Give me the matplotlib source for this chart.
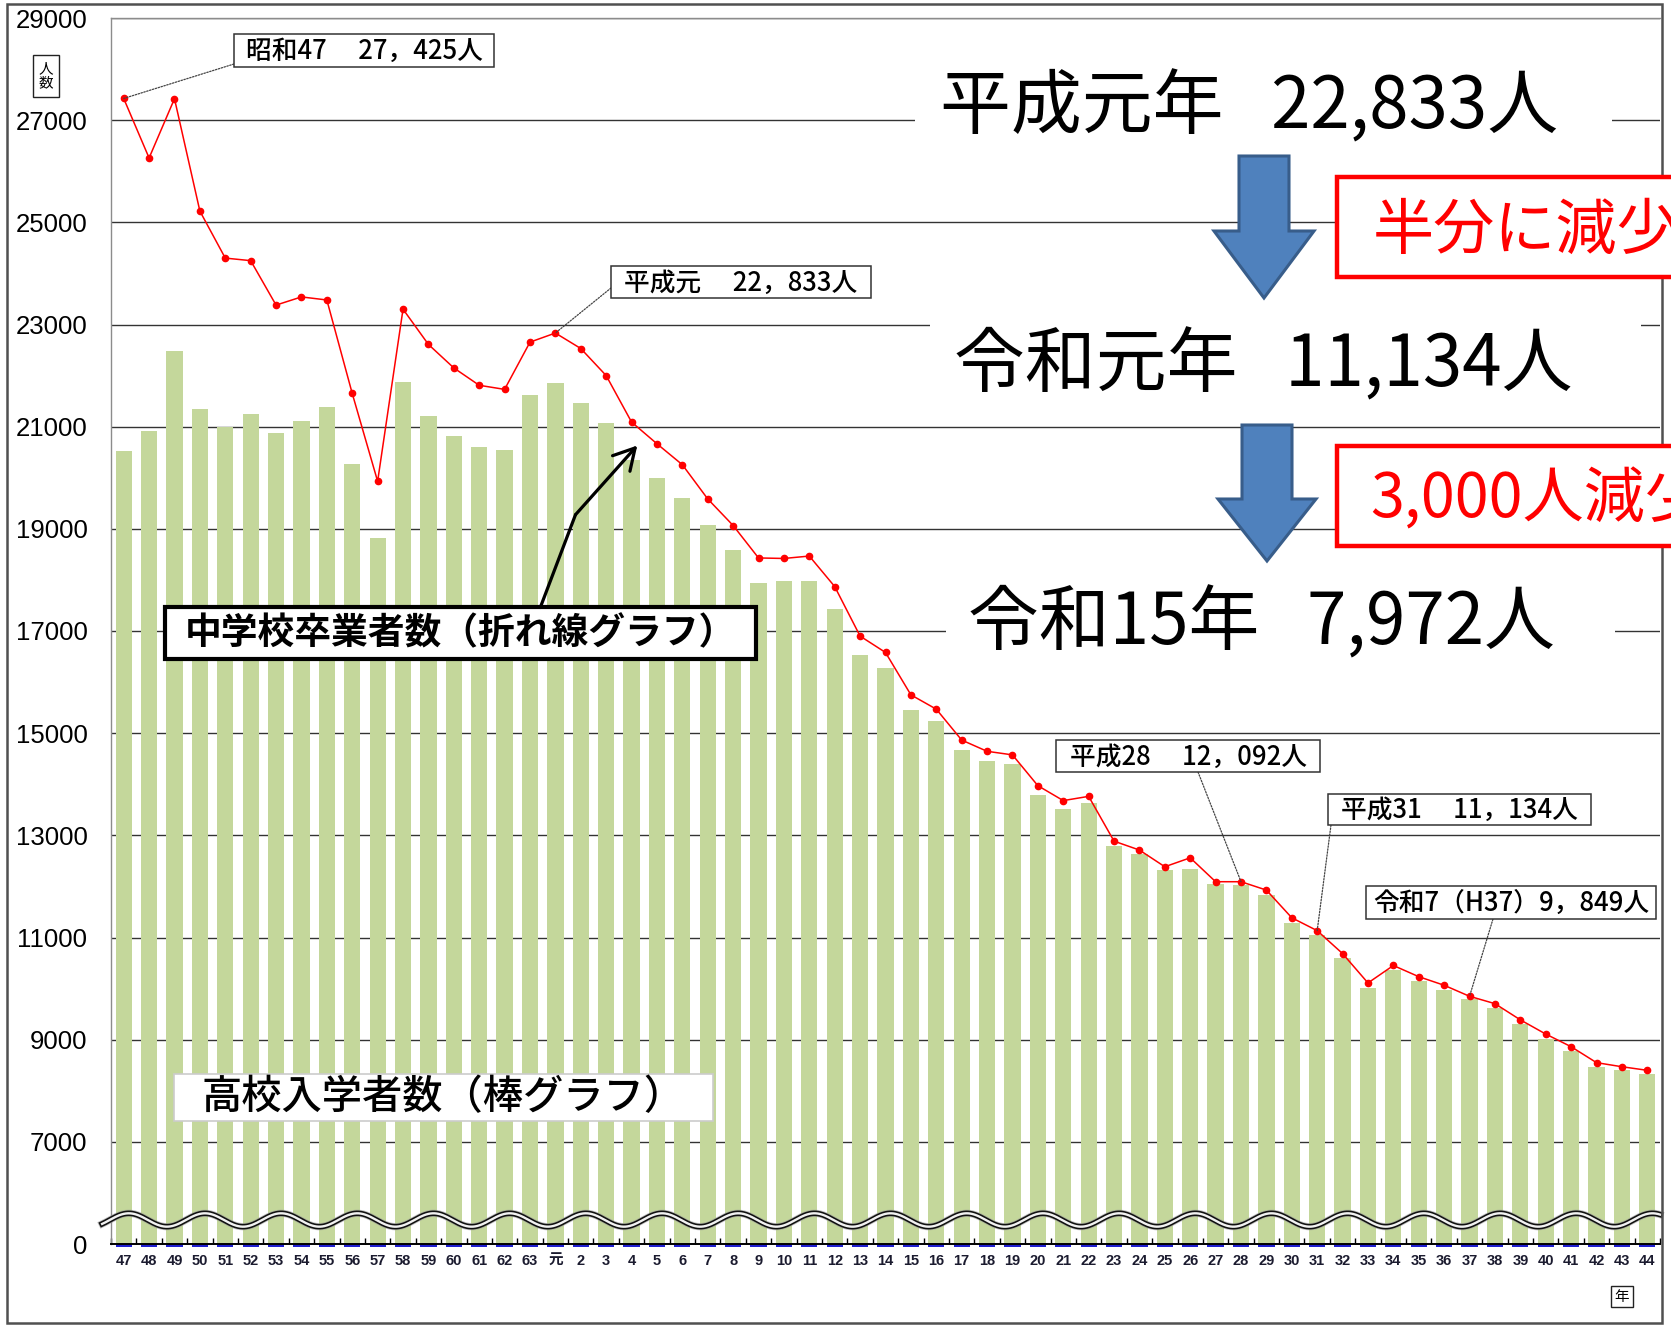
import numpy as np
import matplotlib
matplotlib.use("Agg")
import matplotlib.pyplot as plt
import matplotlib.transforms as mtransforms
from matplotlib.patches import Rectangle, Polygon, FancyArrowPatch, ConnectionPatch
from matplotlib.lines import Line2D

plt.rcParams['font.family'] = ['Noto Sans CJK JP', 'DejaVu Sans']

# ---------------- data ----------------
year_labels = [str(v) for v in range(47, 64)] + ['元'] + [str(v) for v in range(2, 45)]

graduates = [27425, 26260, 27420, 25220, 24300, 24250, 23380, 23540, 23480, 21650,
             19930, 23300, 22610, 22150, 21810, 21730, 22655,
             22833, 22530, 22000, 21090, 20665, 20255, 19585, 19065, 18430, 18420,
             18467, 17870, 16900, 16580, 15750, 15470, 14865, 14645, 14575, 13972,
             13680, 13763, 12886, 12712, 12385, 12560, 12092, 12092, 11928, 11386,
             11134, 10685, 10110, 10452, 10233, 10065, 9849, 9705, 9388, 9110,
             8862, 8550, 8470, 8400]

entrants = [20529, 20913, 22491, 21344, 20995, 21252, 20868, 21109, 21383, 20268,
            18820, 21872, 21213, 20809, 20595, 20548, 21614,
            21850, 21471, 21078, 20340, 19994, 19608, 19070, 18580, 17940, 17985,
            17985, 17433, 16535, 16285, 15455, 15235, 14665, 14450, 14392, 13787,
            13516, 13633, 12787, 12644, 12319, 12345, 12039, 12026, 11830, 11277,
            11043, 10600, 10021, 10366, 10151, 9976, 9787, 9618, 9299, 9012,
            8778, 8465, 8400, 8335]

ytick_values = list(range(5000, 29001, 2000))
ytick_labels = ['0'] + [str(v) for v in range(7000, 29001, 2000)]

callouts = [  # (index, text, box centre px, leader end px)
    (0, '昭和47　 27，425人', (364, 50.5), (234, 64)),
    (17, '平成元　 22，833人', (741, 282), (611, 288)),
    (44, '平成28　 12，092人', (1188, 756), (1198, 772)),
    (47, '平成31　 11，134人', (1459.5, 809.5), (1331, 825)),
    (53, '令和7（H37）9，849人', (1511, 902.5), (1493, 919)),
]
callout_sizes = [(260, 33), (260, 32), (264, 32), (263, 31), (290, 33)]

big_texts = ['平成元年   22,833人', '令和元年   11,134人', '令和15年   7,972人']
red_texts = ['半分に減少', '3,000人減少']

# ---------------- figure ----------------
W, H = 1671, 1325
fig = plt.figure(figsize=(W / 100, H / 100), dpi=100)
pxT = mtransforms.Affine2D().scale(1 / W, -1 / H).translate(0, 1) + fig.transFigure

ax = fig.add_axes([111 / W, 1 - 1244 / H, 1549 / W, 1226 / H])
x = np.arange(len(year_labels))

ax.set_axisbelow(True)
ax.yaxis.grid(True, color='#333333', lw=1.0)
ax.bar(x, np.array(entrants) - 5000, bottom=5000, width=0.64, color='#C4D79B', zorder=2)
ax.bar(x, -55, bottom=5000, width=0.64, color='#1f1fd0', zorder=2, clip_on=False)
ax.plot(x, graduates, color='#FF0000', lw=1.1, marker='o', ms=4.5, zorder=5)

# broken-axis wave
xs = np.linspace(-0.85, 60.5, 3000)
ys = 5470 + 131 * np.cos(2 * np.pi * (xs - 0.2) / 3)
ax.plot(xs, ys, color='#999999', lw=5.2, zorder=3, clip_on=False, alpha=0.6)
ax.plot(xs, ys, color='#111111', lw=4.0, zorder=3, clip_on=False)
ax.plot(xs, ys, color='#f2f2f2', lw=1.7, zorder=3, clip_on=False)

ax.set_xlim(-0.5, len(year_labels) - 0.5)
ax.set_ylim(5000, 29000)
ax.set_yticks(ytick_values)
ax.set_yticklabels(ytick_labels, fontfamily=['Liberation Sans'], fontsize=18.5)
ax.tick_params(axis='y', length=0, pad=17)
ax.set_xticks(x)
ax.set_xticklabels(year_labels, fontfamily=['Liberation Sans', 'Noto Sans CJK JP'],
                   fontsize=10.5, fontweight='bold', color='#1b1b2f')
ax.tick_params(axis='x', which='major', length=0, pad=7)
ax.set_xticks(np.arange(-0.5, len(year_labels), 1), minor=True)
ax.tick_params(axis='x', which='minor', direction='in', length=4, width=1, color='black')

for s in ['left', 'top']:
    ax.spines[s].set_color('#8c8c8c')
    ax.spines[s].set_linewidth(1.0)
ax.spines['right'].set_visible(False)
ax.spines['bottom'].set_color('black')
ax.spines['bottom'].set_linewidth(1.4)

# outer frame
fig.add_artist(Rectangle((7, 4), 1655, 1319, transform=pxT, fill=False,
                         edgecolor='#505050', lw=1.8))

# axis unit boxes
fig.add_artist(Rectangle((33, 55), 26, 42, transform=pxT, fill=False, edgecolor='#222', lw=1))
fig.text(46, 76, '人\n数', transform=pxT, ha='center', va='center', fontsize=10.5, linespacing=1.0)
fig.add_artist(Rectangle((1611, 1286), 22, 21, transform=pxT, fill=False, edgecolor='#222', lw=1))
fig.text(1622, 1296.5, '年', transform=pxT, ha='center', va='center', fontsize=10.5)

# callouts
for (idx, txt, (cx, cy), (lx, ly)), (bw, bh) in zip(callouts, callout_sizes):
    con = ConnectionPatch(xyA=(lx, ly), coordsA=pxT, xyB=(idx, graduates[idx]),
                          coordsB=ax.transData, color='#444444', lw=0.9,
                          linestyle=(0, (1.2, 1.2)), zorder=6)
    fig.add_artist(con)
    fig.add_artist(Rectangle((cx - bw / 2, cy - bh / 2), bw, bh, transform=pxT,
                             facecolor='white', edgecolor='#333333', lw=1.1, zorder=7))
    fig.text(cx, cy + 1, txt, transform=pxT, ha='center', va='center', fontsize=18.5,
             fontweight='medium', zorder=8)

# series labels
fig.add_artist(Rectangle((165, 607), 591, 52, transform=pxT, facecolor='white',
                         edgecolor='black', lw=3.0, zorder=7))
fig.text(460.5, 634, '中学校卒業者数（折れ線グラフ）', transform=pxT, ha='center', va='center',
         fontsize=26.5, fontweight='bold', zorder=8)
fig.add_artist(Line2D([540.3, 575.5], [607.5, 514.7], transform=pxT, color='black', lw=2.3,
                      solid_capstyle='round', zorder=7))
fig.add_artist(FancyArrowPatch((575.5, 514.7), (637.3, 445.5), transform=pxT,
                               arrowstyle='->,head_length=0.5,head_width=0.28', mutation_scale=30,
                               color='black', lw=2.3, shrinkA=0, shrinkB=0, zorder=7))

fig.add_artist(Rectangle((174, 1074), 539, 47, transform=pxT, facecolor='white',
                         edgecolor='#cccccc', lw=1.2, zorder=7))
fig.text(443.5, 1098, '高校入学者数（棒グラフ）', transform=pxT, ha='center', va='center',
         fontsize=29, fontweight='medium', zorder=8)

# big overlay texts
for (bx, by, bw, bh) in [(915, 60, 697, 85), (930, 300, 711, 100), (946, 570, 669, 95)]:
    fig.add_artist(Rectangle((bx, by), bw, bh, transform=pxT, facecolor='white',
                             edgecolor='none', zorder=7))
for (tx, ty), s in zip([(940, 129), (954, 387), (968, 645)], big_texts):
    fig.text(tx, ty, s, transform=pxT, ha='left', va='baseline', fontsize=51, zorder=8)

# blue down arrows
def down_arrow(sl, sr, top, hb, hl, hr, tx, ty):
    verts = [(sl, top), (sr, top), (sr, hb), (hr, hb), (tx, ty), (hl, hb), (sl, hb)]
    fig.add_artist(Polygon(verts, closed=True, transform=pxT, facecolor='#4F81BD',
                           edgecolor='#385D8A', lw=2.2, zorder=9))

down_arrow(1239, 1289, 156, 231, 1214, 1314, 1264, 298)
down_arrow(1242, 1292, 425, 499, 1218, 1316, 1267, 561)

# red boxes (the reference crops these at the right edge)
for (by, bh) in [(177, 100), (446, 100)]:
    fig.add_artist(Rectangle((1337, by), 400, bh, transform=pxT, facecolor='white',
                             edgecolor='#FF0000', lw=3.2, zorder=9))
for (tx, ty), s in zip([(1373, 249), (1370, 517)], red_texts):
    fig.text(tx, ty, s, transform=pxT, ha='left', va='baseline', fontsize=44,
             color='#FF0000', zorder=10)

fig.savefig('out.png', dpi=100)
